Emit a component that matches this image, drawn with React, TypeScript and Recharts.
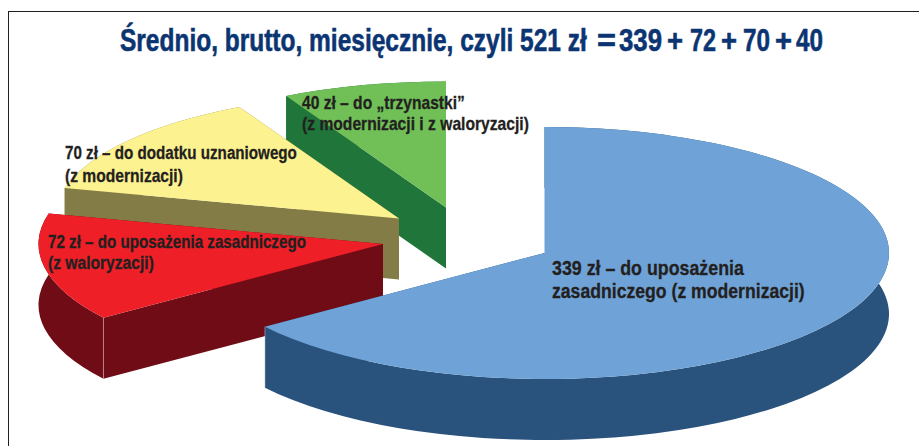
import { PieChart, Pie } from "recharts";

const names = ["trzynastka", "dodatek", "waloryzacja", "modernizacja"];
const values = [40, 70, 72, 339];
const topColors = ["#70bf57", "#fdf290", "#ee1f27", "#6fa3d7"];
const wallColors = ["#20753a", "#847c46", "#700c16", "#29527c"];

// how far each slice is pulled out of the pie
const shiftX = [-98.5, -145.5, -161.5, 0];
const shiftY = [-45.5, -34.5, -9, 0];

const labelLines = [
  ["40 zł – do „trzynastki”", "(z modernizacji i z waloryzacji)"],
  ["70 zł – do dodatku uznaniowego", "(z modernizacji)"],
  ["72 zł – do uposażenia zasadniczego", "(z waloryzacji)"],
  ["339 zł – do uposażenia", "zasadniczego (z modernizacji)"],
];
const labelX = [302, 65, 48, 552];
const labelY = [[109, 130], [159, 182], [248, 269], [275, 298]];
const labelWidth = [[163, 227], [232, 118], [258, 106], [192, 253]];
const labelSize = [18, 19, 19, 21];

// title pieces: text, left edge, width
const titleParts = ["Średnio, brutto, miesięcznie, czyli 521 zł", "=", "339", "+", "72", "+", "70", "+", "40"];
const titleX = [120, 597, 619, 667, 690, 721, 743, 775, 796];
const titleWidth = [467, 19, 43, 16, 26, 16, 27, 17, 27];

const data = names.map((name, i) => ({ name, value: values[i], fill: topColors[i] }));

const CX = 544.5;
const CY = 253;
const RX = 344.5;
const RY = 126;
const DEPTH = 61;
const FONT = "'Liberation Sans Narrow', 'Liberation Sans', Arial, sans-serif";

let measureCtx: CanvasRenderingContext2D | null = null;

function FitText({ x, y, width, size, fill, heavy, children }: any) {
  if (!measureCtx) measureCtx = document.createElement("canvas").getContext("2d");
  measureCtx!.font = `bold ${size}px ${FONT}`;
  const scale = width / measureCtx!.measureText(children).width;
  return (
    <text
      transform={`translate(${x} ${y}) scale(${scale} 1)`}
      fontFamily={FONT}
      fontSize={size}
      fontWeight="bold"
      fill={fill}
      stroke={fill}
      strokeWidth={heavy}
      textAnchor="start"
    >
      {children}
    </text>
  );
}

function Slice3D(props: any) {
  const { cx, cy, outerRadius, startAngle, endAngle, index } = props;
  const ox = cx + shiftX[index];
  const oy = cy + shiftY[index];
  const ry = outerRadius * (RY / RX);
  const pt = (deg: number) => {
    const a = (deg * Math.PI) / 180;
    return [ox + outerRadius * Math.cos(a), oy - ry * Math.sin(a)];
  };
  const [x1, y1] = pt(startAngle);
  const [x2, y2] = pt(endAngle);
  const large = Math.abs(endAngle - startAngle) > 180 ? 1 : 0;
  const arc = `A${outerRadius} ${ry} 0 ${large} 0`;
  const arcBack = `A${outerRadius} ${ry} 0 ${large} 1`;

  const top = `M${ox} ${oy}L${x1} ${y1}${arc} ${x2} ${y2}Z`;
  const rim = `M${x1} ${y1}${arc} ${x2} ${y2}L${x2} ${y2 + DEPTH}${arcBack} ${x1} ${y1 + DEPTH}Z`;
  const sideA = `M${ox} ${oy}L${x1} ${y1}L${x1} ${y1 + DEPTH}L${ox} ${oy + DEPTH}Z`;
  const sideB = `M${ox} ${oy}L${x2} ${y2}L${x2} ${y2 + DEPTH}L${ox} ${oy + DEPTH}Z`;
  const wall = wallColors[index];

  // thin light edge on corners that face the viewer
  const corners = [
    [x1, y1],
    [x2, y2],
  ].filter(([, y]) => y > oy + 1);

  return (
    <g>
      <path d={rim} fill={wall} />
      <path d={sideA} fill={wall} />
      <path d={sideB} fill={wall} />
      {corners.map(([x, y], i) => (
        <line key={i} x1={x} y1={y} x2={x} y2={y + DEPTH} stroke="#fff" strokeOpacity={0.35} />
      ))}
      <path d={top} fill={topColors[index]} />
    </g>
  );
}

function renderLabel({ index }: any) {
  return (
    <g key={index}>
      {labelLines[index].map((line, i) => (
        <FitText
          key={i}
          x={labelX[index]}
          y={labelY[index][i]}
          width={labelWidth[index][i]}
          size={labelSize[index]}
          fill="#231f20"
          heavy={0.3}
        >
          {line}
        </FitText>
      ))}
    </g>
  );
}

export default function App() {
  return (
    <div style={{ position: "absolute", left: 0, top: 0, width: 919, height: 446, overflow: "hidden", background: "#fff" }}>
      <div
        style={{
          position: "absolute",
          left: 8,
          top: 11,
          width: 911,
          height: 435,
          borderLeft: "1.5px solid #231f20",
          borderTop: "1.5px solid #231f20",
          boxSizing: "border-box",
        }}
      />
      <div style={{ position: "absolute", left: 0, top: 0 }}>
        <PieChart width={919} height={446} margin={{ top: 0, right: 0, bottom: 0, left: 0 }}>
          {titleParts.map((part, i) => (
            <FitText key={i} x={titleX[i]} y={50.5} width={titleWidth[i]} size={32} fill="#0b3572" heavy={0.6}>
              {part}
            </FitText>
          ))}
          <Pie
            data={data}
            dataKey="value"
            nameKey="name"
            cx={CX}
            cy={CY}
            innerRadius={0}
            outerRadius={RX}
            startAngle={90}
            endAngle={450}
            stroke="none"
            shape={Slice3D}
            label={renderLabel}
            labelLine={false}
            isAnimationActive={false}
          />
        </PieChart>
      </div>
    </div>
  );
}
